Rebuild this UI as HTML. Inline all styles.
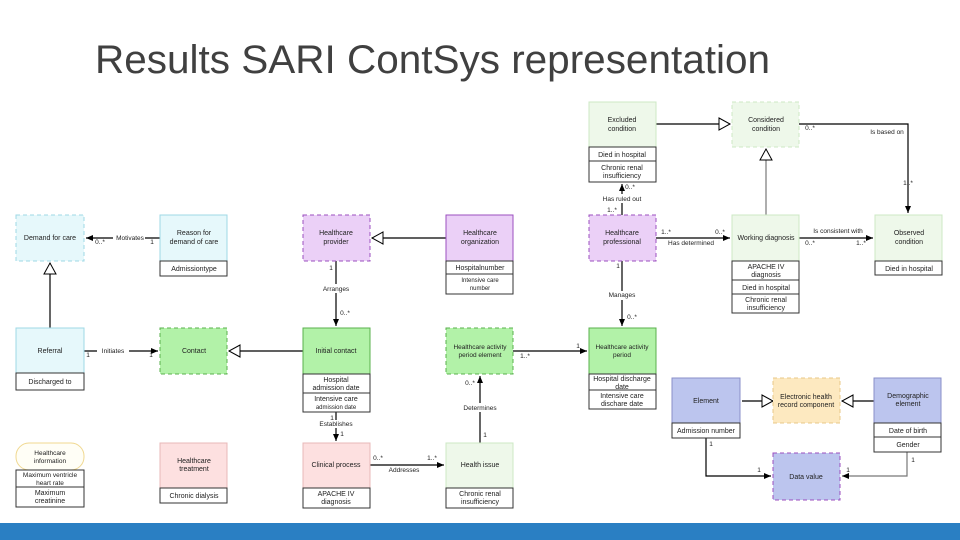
<!DOCTYPE html>
<html><head><meta charset="utf-8"><style>
html,body{margin:0;padding:0;background:#fff;}
svg{display:block;font-family:"Liberation Sans",sans-serif;}
</style></head><body>
<svg width="960" height="540" viewBox="0 0 960 540" xmlns="http://www.w3.org/2000/svg">
<defs>
<marker id="a" markerWidth="8" markerHeight="8" refX="7" refY="4" orient="auto" markerUnits="userSpaceOnUse"><path d="M0,1 L7,4 L0,7 z" fill="#000"/></marker>
<marker id="g" markerWidth="14" markerHeight="14" refX="12" refY="7" orient="auto" markerUnits="userSpaceOnUse"><path d="M1,1 L12,7 L1,13 z" fill="#fff" stroke="#000" stroke-width="1"/></marker>
</defs>
<text x="95" y="73" font-size="40" fill="#404040" textLength="675" lengthAdjust="spacingAndGlyphs" style="font-family:'Liberation Sans',sans-serif">Results SARI ContSys representation</text>

<g stroke="#000" stroke-width="1.2" fill="none">
<!-- connectors -->
<line x1="160" y1="238" x2="86" y2="238" marker-end="url(#a)"/>
<line x1="50" y1="328" x2="50" y2="263" marker-end="url(#g)"/>
<line x1="84" y1="351" x2="158" y2="351" marker-end="url(#a)"/>
<line x1="303" y1="351" x2="229" y2="351" marker-end="url(#g)"/>
<line x1="446" y1="238" x2="372" y2="238" marker-end="url(#g)"/>
<line x1="336" y1="261" x2="336" y2="326" marker-end="url(#a)"/>
<line x1="336" y1="412" x2="336" y2="441" marker-end="url(#a)"/>
<line x1="370" y1="465" x2="444" y2="465" marker-end="url(#a)"/>
<line x1="480" y1="443" x2="480" y2="376" marker-end="url(#a)"/>
<line x1="513" y1="351" x2="587" y2="351" marker-end="url(#a)"/>
<line x1="622" y1="261" x2="622" y2="326" marker-end="url(#a)"/>
<line x1="622" y1="215" x2="622" y2="184" marker-end="url(#a)"/>
<line x1="656" y1="238" x2="730" y2="238" marker-end="url(#a)"/>
<line x1="799" y1="238" x2="873" y2="238" marker-end="url(#a)"/>
<line x1="656" y1="124" x2="730" y2="124" marker-end="url(#g)"/>
<line x1="766" y1="215" x2="766" y2="149" marker-end="url(#g)" stroke="#777"/>
<polyline points="799,124 908,124 908,213" marker-end="url(#a)"/>
<line x1="773" y1="401" x2="742" y2="401" marker-end="url(#g)" transform="rotate(180 757.5 401)"/>
<line x1="874" y1="401" x2="842" y2="401" marker-end="url(#g)"/>
<polyline points="706,438 706,476 771,476" marker-end="url(#a)"/>
<polyline points="907,452 907,476 842,476" marker-end="url(#a)" stroke="#777"/>
</g>

<g font-size="7" fill="#222" text-anchor="middle">
<!-- boxes -->
<rect x="16" y="215" width="68" height="46" fill="#e6f8fb" stroke="#9fd8e6" stroke-dasharray="4,3"/>
<text x="50" y="240">Demand for care</text>
<rect x="160" y="215" width="67" height="46" fill="#e6f8fb" stroke="#9fd8e6"/>
<text x="194" y="235">Reason for</text><text x="194" y="244">demand of care</text>
<rect x="160" y="261" width="67" height="15" fill="#fff" stroke="#333"/><text x="194" y="271">Admissiontype</text>

<rect x="303" y="215" width="67" height="46" fill="#ebd0f7" stroke="#9b4fbf" stroke-dasharray="4,3"/>
<text x="336" y="235">Healthcare</text><text x="336" y="244">provider</text>
<rect x="446" y="215" width="67" height="46" fill="#ebd0f7" stroke="#9b4fbf"/>
<text x="480" y="235">Healthcare</text><text x="480" y="244">organization</text>
<rect x="446" y="261" width="67" height="13" fill="#fff" stroke="#333"/><text x="480" y="270">Hospitalnumber</text>
<rect x="446" y="274" width="67" height="20" fill="#fff" stroke="#333"/><text x="480" y="282" font-size="6">Intensive care</text><text x="480" y="290" font-size="6">number</text>

<rect x="589" y="102" width="67" height="45" fill="#eef8ea" stroke="#cde8c4"/>
<text x="622" y="122">Excluded</text><text x="622" y="131">condition</text>
<rect x="589" y="147" width="67" height="14" fill="#fff" stroke="#333"/><text x="622" y="157">Died in hospital</text>
<rect x="589" y="161" width="67" height="21" fill="#fff" stroke="#333"/><text x="622" y="170">Chronic renal</text><text x="622" y="178">insufficiency</text>

<rect x="732" y="102" width="67" height="45" fill="#eef8ea" stroke="#cde8c4" stroke-dasharray="4,3"/>
<text x="766" y="122">Considered</text><text x="766" y="131">condition</text>

<rect x="589" y="215" width="67" height="46" fill="#ebd0f7" stroke="#9b4fbf" stroke-dasharray="4,3"/>
<text x="622" y="235">Healthcare</text><text x="622" y="244">professional</text>

<rect x="732" y="215" width="67" height="46" fill="#eef8ea" stroke="#cde8c4"/>
<text x="766" y="240">Working diagnosis</text>
<rect x="732" y="261" width="67" height="19" fill="#fff" stroke="#333"/><text x="766" y="269">APACHE IV</text><text x="766" y="277">diagnosis</text>
<rect x="732" y="280" width="67" height="14" fill="#fff" stroke="#333"/><text x="766" y="290">Died in hospital</text>
<rect x="732" y="294" width="67" height="19" fill="#fff" stroke="#333"/><text x="766" y="302">Chronic renal</text><text x="766" y="310">insufficiency</text>

<rect x="875" y="215" width="67" height="46" fill="#eef8ea" stroke="#cde8c4"/>
<text x="909" y="235">Observed</text><text x="909" y="244">condition</text>
<rect x="875" y="261" width="67" height="14" fill="#fff" stroke="#333"/><text x="909" y="271">Died in hospital</text>

<rect x="16" y="328" width="68" height="45" fill="#e6f8fb" stroke="#9fd8e6"/>
<text x="50" y="353">Referral</text>
<rect x="16" y="373" width="68" height="17" fill="#fff" stroke="#333"/><text x="50" y="384">Discharged to</text>

<rect x="160" y="328" width="67" height="46" fill="#b2f2a8" stroke="#5ab04d" stroke-dasharray="4,3"/>
<text x="194" y="353">Contact</text>
<rect x="303" y="328" width="67" height="46" fill="#b2f2a8" stroke="#5ab04d"/>
<text x="336" y="353">Initial contact</text>
<rect x="303" y="374" width="67" height="19" fill="#fff" stroke="#333"/><text x="336" y="382">Hospital</text><text x="336" y="390">admission date</text>
<rect x="303" y="393" width="67" height="19" fill="#fff" stroke="#333"/><text x="336" y="401">Intensive care</text><text x="336" y="409" font-size="6">admission date</text>

<rect x="446" y="328" width="67" height="46" fill="#b2f2a8" stroke="#5ab04d" stroke-dasharray="4,3"/>
<text x="480" y="349" font-size="6.5">Healthcare activity</text><text x="480" y="357" font-size="6.5">period element</text>
<rect x="589" y="328" width="67" height="46" fill="#b2f2a8" stroke="#5ab04d"/>
<text x="622" y="349" font-size="6.5">Healthcare activity</text><text x="622" y="357" font-size="6.5">period</text>
<rect x="589" y="374" width="67" height="16" fill="#fff" stroke="#333"/><text x="622" y="381">Hospital discharge</text><text x="622" y="389">date</text>
<rect x="589" y="390" width="67" height="19" fill="#fff" stroke="#333"/><text x="622" y="398">Intensive care</text><text x="622" y="406">dischare date</text>

<rect x="672" y="378" width="68" height="45" fill="#bcc5ee" stroke="#8a8fc8"/>
<text x="706" y="403">Element</text>
<rect x="672" y="423" width="68" height="15" fill="#fff" stroke="#333"/><text x="706" y="433">Admission number</text>

<rect x="773" y="378" width="67" height="45" fill="#fde9c0" stroke="#e8c888" stroke-dasharray="4,3"/>
<text x="806" y="399">Electronic health</text><text x="806" y="407">record component</text>

<rect x="874" y="378" width="67" height="45" fill="#bcc5ee" stroke="#8a8fc8"/>
<text x="908" y="398">Demographic</text><text x="908" y="406">element</text>
<rect x="874" y="423" width="67" height="14" fill="#fff" stroke="#333"/><text x="908" y="433">Date of birth</text>
<rect x="874" y="437" width="67" height="15" fill="#fff" stroke="#333"/><text x="908" y="447">Gender</text>

<rect x="773" y="453" width="67" height="47" fill="#bcc5ee" stroke="#9b4fbf" stroke-dasharray="4,3"/>
<text x="806" y="479">Data value</text>

<rect x="16" y="443" width="68" height="27" rx="13" fill="#fffef6" stroke="#f0d890"/>
<text x="50" y="455" font-size="6.5">Healthcare</text><text x="50" y="463" font-size="6.5">information</text>
<rect x="16" y="470" width="68" height="17" fill="#fff" stroke="#333"/><text x="50" y="477" font-size="6.5">Maximum ventricle</text><text x="50" y="485" font-size="6.5">heart rate</text>
<rect x="16" y="487" width="68" height="20" fill="#fff" stroke="#333"/><text x="50" y="495">Maximum</text><text x="50" y="503">creatinine</text>

<rect x="160" y="443" width="67" height="45" fill="#fde0e0" stroke="#e8b8b8"/>
<text x="194" y="463">Healthcare</text><text x="194" y="471">treatment</text>
<rect x="160" y="488" width="67" height="15" fill="#fff" stroke="#333"/><text x="194" y="498">Chronic dialysis</text>

<rect x="303" y="443" width="67" height="45" fill="#fde0e0" stroke="#e8b8b8"/>
<text x="336" y="467">Clinical process</text>
<rect x="303" y="488" width="67" height="20" fill="#fff" stroke="#333"/><text x="336" y="496">APACHE IV</text><text x="336" y="504">diagnosis</text>

<rect x="446" y="443" width="67" height="45" fill="#eef8ea" stroke="#cde8c4"/>
<text x="480" y="467">Health issue</text>
<rect x="446" y="488" width="67" height="20" fill="#fff" stroke="#333"/><text x="480" y="496">Chronic renal</text><text x="480" y="504">insufficiency</text>

<!-- labels -->
<g font-size="6.5">
<rect x="113" y="233" width="32" height="9" fill="#fff"/><text x="130" y="240">Motivates</text>
<text x="100" y="244">0..*</text><text x="152" y="244">1</text>
<rect x="97" y="346" width="32" height="9" fill="#fff"/><text x="113" y="353">Initiates</text>
<text x="88" y="357">1</text><text x="151" y="357">1</text>
<text x="331" y="270">1</text>
<rect x="318" y="284" width="36" height="9" fill="#fff"/><text x="336" y="291">Arranges</text>
<text x="345" y="315">0..*</text>
<text x="332" y="420">1</text>
<rect x="316" y="420" width="40" height="8" fill="#fff"/><text x="336" y="426">Establishes</text>
<text x="342" y="436">1</text>
<text x="378" y="460">0..*</text><text x="432" y="460">1..*</text>
<text x="404" y="472">Addresses</text>
<text x="470" y="385">0..*</text>
<rect x="460" y="403" width="40" height="9" fill="#fff"/><text x="480" y="410">Determines</text>
<text x="485" y="437">1</text>
<text x="525" y="358">1..*</text><text x="578" y="348">1</text>
<text x="618" y="268">1</text>
<rect x="605" y="291" width="34" height="9" fill="#fff"/><text x="622" y="297">Manages</text>
<text x="632" y="319">0..*</text>
<text x="630" y="189">0..*</text>
<rect x="598" y="194" width="48" height="9" fill="#fff"/><text x="622" y="201">Has ruled out</text>
<text x="612" y="212">1..*</text>
<text x="666" y="234">1..*</text><text x="720" y="234">0..*</text>
<text x="691" y="245">Has determined</text>
<text x="838" y="233">Is consistent with</text>
<text x="810" y="245">0..*</text><text x="861" y="245">1..*</text>
<text x="810" y="130">0..*</text>
<text x="887" y="134">Is based on</text>
<text x="908" y="185">1..*</text>
<text x="711" y="446">1</text><text x="759" y="472">1</text>
<text x="913" y="462">1</text><text x="848" y="472">1</text>
</g>
</g>
<rect x="0" y="523" width="960" height="17" fill="#2a7fc3"/>
</svg>
</body></html>
